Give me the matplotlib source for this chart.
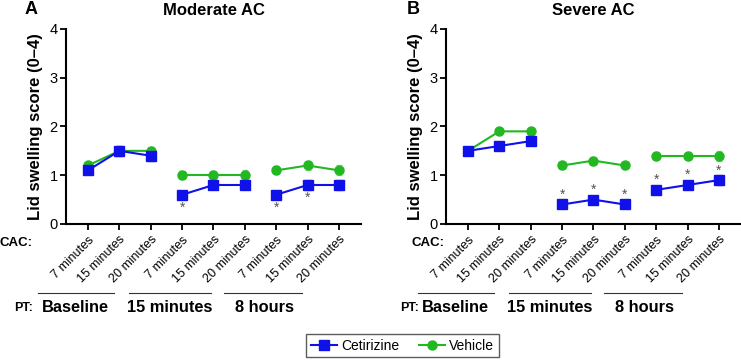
import matplotlib.pyplot as plt
import numpy as np
from matplotlib import transforms

plt.rcParams['font.family'] = ['Liberation Sans', 'DejaVu Sans']

cac_labels = ["7 minutes", "15 minutes", "20 minutes"] * 3
pt_labels = ["Baseline", "15 minutes", "8 hours"]

# Moderate AC
mod_cet = [1.1, 1.5, 1.4, 0.6, 0.8, 0.8, 0.6, 0.8, 0.8]
mod_cet_err = [0.08, 0.1, 0.1, 0.08, 0.08, 0.08, 0.08, 0.1, 0.1]
mod_veh = [1.2, 1.5, 1.5, 1.0, 1.0, 1.0, 1.1, 1.2, 1.1]
mod_veh_err = [0.07, 0.1, 0.08, 0.08, 0.08, 0.1, 0.08, 0.1, 0.1]
mod_star = [4, 7, 8]

# Severe AC
sev_cet = [1.5, 1.6, 1.7, 0.4, 0.5, 0.4, 0.7, 0.8, 0.9]
sev_cet_err = [0.05, 0.05, 0.06, 0.07, 0.08, 0.08, 0.06, 0.07, 0.1]
sev_veh = [1.5, 1.9, 1.9, 1.2, 1.3, 1.2, 1.4, 1.4, 1.4]
sev_veh_err = [0.05, 0.05, 0.05, 0.07, 0.08, 0.08, 0.08, 0.08, 0.1]
sev_star = [4, 5, 6, 7, 8, 9]

blue = '#1010e8'
green = '#22b822'
x = np.arange(1, 10)
groups = [(0, 3), (3, 6), (6, 9)]

fig = plt.figure(figsize=(7.41, 3.6), dpi=100)
axA = fig.add_axes([0.0891, 0.3778, 0.398, 0.5417])
axB = fig.add_axes([0.6019, 0.3778, 0.398, 0.5417])

panels = [
    (axA, "A", 31, "Moderate AC", mod_cet, mod_cet_err, mod_veh, mod_veh_err, mod_star, 'below', -1.28, -1.04),
    (axB, "B", 413, "Severe AC", sev_cet, sev_cet_err, sev_veh, sev_veh_err, sev_star, 'above', -0.27, -0.85),
]

for ax, letter, letter_px, title, cet, cet_err, veh, veh_err, stars, side, cac_x, pt_x in panels:
    for a, b in groups:
        xs = x[a:b]
        ax.errorbar(xs, veh[a:b], yerr=veh_err[a:b], color=green, marker='o', ms=6.5,
                    lw=1.5, ecolor='#9ad89a', elinewidth=1, capsize=2.5, zorder=3)
        ax.errorbar(xs, cet[a:b], yerr=cet_err[a:b], color=blue, marker='s', ms=6.5,
                    lw=1.5, ecolor='#8f8ff0', elinewidth=1, capsize=2.5, zorder=4)
    for i in stars:
        if side == 'below':
            ax.text(i, cet[i - 1] - 0.27, '*', ha='center', va='center', fontsize=10, color='#555555')
        else:
            ax.text(i, cet[i - 1] + 0.2, '*', ha='center', va='center', fontsize=10, color='#555555')

    ax.set_xlim(0.3, 9.7)
    ax.set_ylim(0, 4)
    ax.set_yticks([0, 1, 2, 3, 4])
    ax.set_xticks(x)
    ax.set_xticklabels(cac_labels, rotation=45, ha='right', rotation_mode='anchor', fontsize=9)
    ax.tick_params(axis='both', direction='out', length=4, width=1.3)
    ax.tick_params(axis='y', labelsize=10.5, pad=2)
    ax.tick_params(axis='x', pad=3)
    for s in ['top', 'right']:
        ax.spines[s].set_visible(False)
    for s in ['left', 'bottom']:
        ax.spines[s].set_linewidth(1.5)
    ax.set_ylabel("Lid swelling score (0–4)", fontsize=12, fontweight='bold')
    ax.yaxis.set_label_coords(-0.078, 0.5)
    ax.set_title(title, fontsize=12, fontweight='bold', pad=10)
    fig.text(letter_px / 741, 1 - 10 / 360, letter, fontsize=13, fontweight='bold',
             ha='center', va='center')

    trans = transforms.blended_transform_factory(ax.transData, ax.transAxes)
    ax.text(cac_x, -0.095, "CAC:", transform=trans, ha='center', va='center',
            fontsize=9.5, fontweight='bold', clip_on=False)
    ax.text(pt_x, -0.43, "PT:", transform=trans, ha='center', va='center',
            fontsize=9, fontweight='bold', clip_on=False)
    line_spans = [(-0.6, 1.83), (2.3, 4.93), (5.35, 7.82)]
    label_x = [0.6, 3.62, 6.62]
    for (x0, x1), lx, lab in zip(line_spans, label_x, pt_labels):
        ax.plot([x0, x1], [-0.354, -0.354], transform=trans, color='#333333', lw=0.8, clip_on=False)
        ax.text(lx, -0.43, lab, transform=trans, ha='center', va='center',
                fontsize=11.8, fontweight='bold', clip_on=False)

handles = [
    plt.Line2D([], [], color=blue, marker='s', ms=6.5, lw=1.5),
    plt.Line2D([], [], color=green, marker='o', ms=6.5, lw=1.5),
]
fig.legend(handles, ["Cetirizine", "Vehicle"], loc='center', bbox_to_anchor=(0.543, 0.04),
           ncol=2, frameon=True, fancybox=False, edgecolor='#333333', fontsize=10,
           handlelength=1.9, columnspacing=1.4, borderpad=0.35, handletextpad=0.3)

fig.savefig('out.png', dpi=100)
